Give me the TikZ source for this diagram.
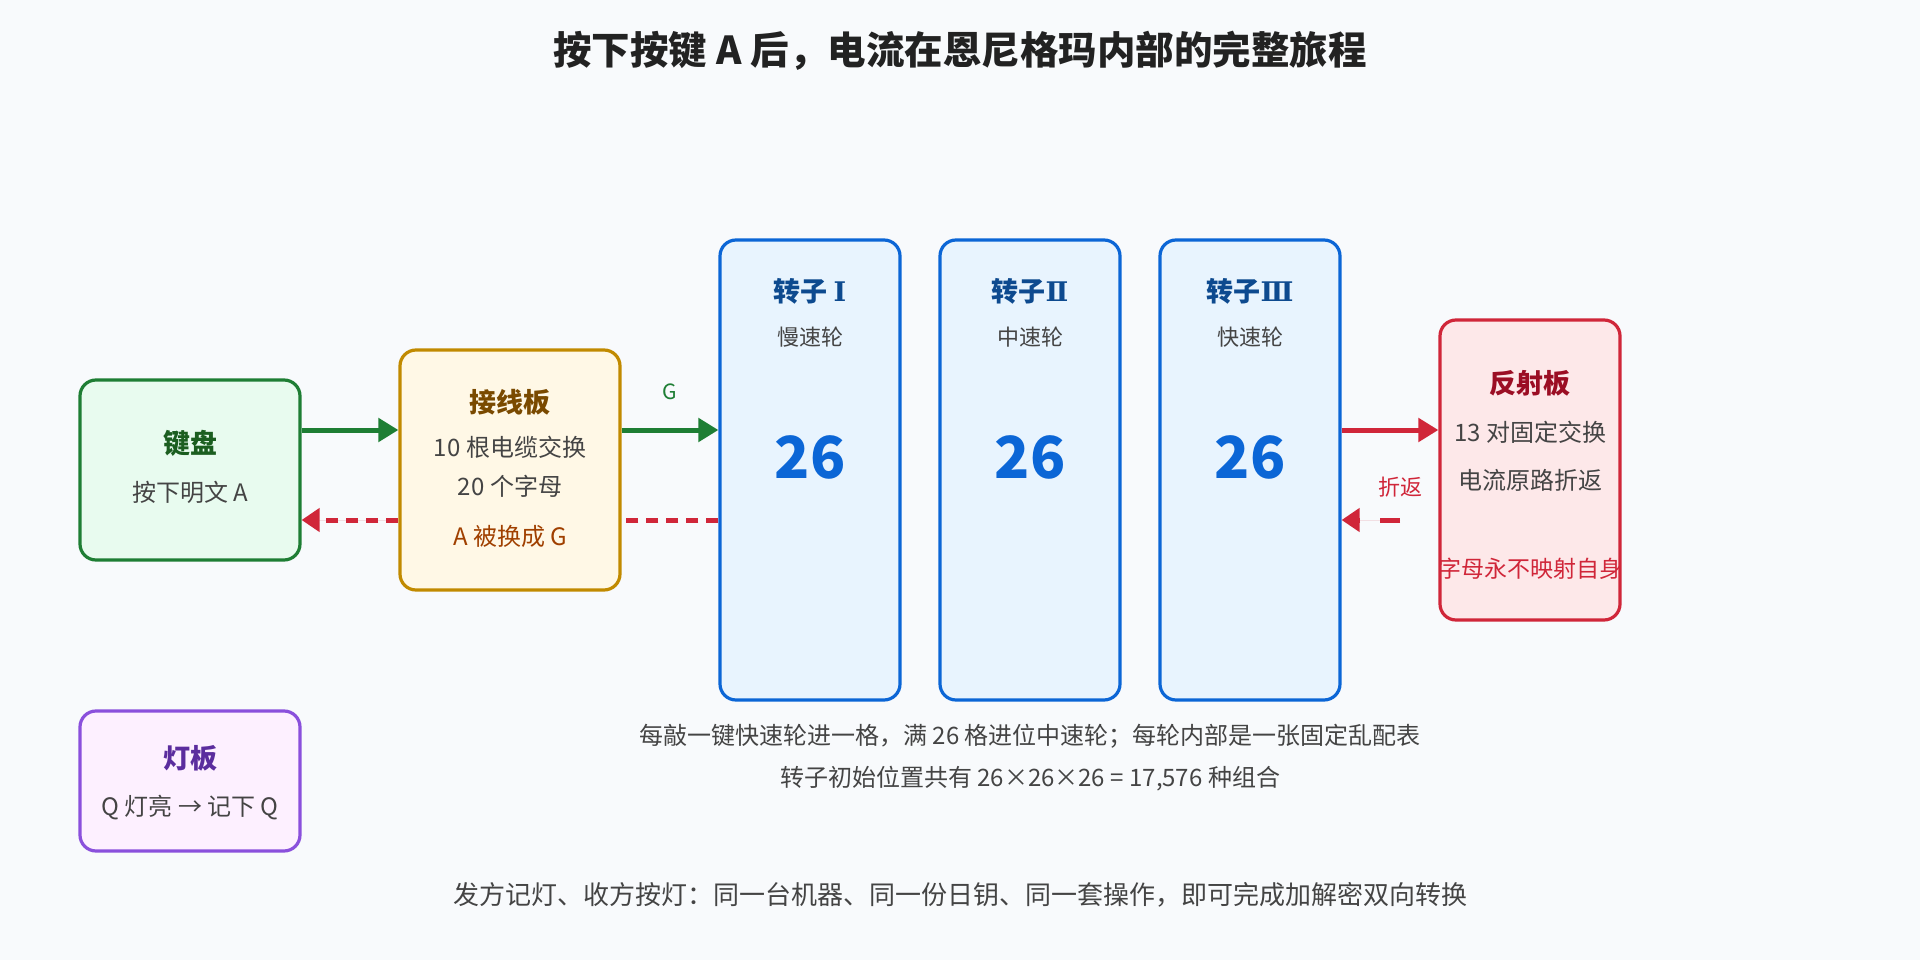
\documentclass[tikz,border=0pt]{standalone}
\usepackage{fontspec}
\setmainfont{Noto Sans CJK SC}
\newfontfamily\romanfont{DejaVu Serif}
\usetikzlibrary{arrows.meta,calc}

\definecolor{bgcol}{HTML}{F8FAFC}
\definecolor{titlecol}{HTML}{222222}
\definecolor{textgray}{HTML}{444444}
\definecolor{kbline}{HTML}{1E7E34}
\definecolor{kbfill}{HTML}{E8FBEF}
\definecolor{kbtitle}{HTML}{1B5E20}
\definecolor{pbline}{HTML}{C18A00}
\definecolor{pbfill}{HTML}{FFF8E6}
\definecolor{pbtitle}{HTML}{7A4A00}
\definecolor{pbnote}{HTML}{A04000}
\definecolor{rotline}{HTML}{0B66D6}
\definecolor{rotfill}{HTML}{E8F4FE}
\definecolor{rottitle}{HTML}{0D4A8F}
\definecolor{rfline}{HTML}{D02639}
\definecolor{rffill}{HTML}{FDE8E9}
\definecolor{rftitle}{HTML}{9B0E24}
\definecolor{ltline}{HTML}{8A50DC}
\definecolor{ltfill}{HTML}{FDF0FF}
\definecolor{lttitle}{HTML}{5B2D9E}
\definecolor{flowgreen}{HTML}{1E7E34}
\definecolor{flowred}{HTML}{D02639}

\begin{document}
\begin{tikzpicture}[x=1pt,y=-1pt,
  box/.style={draw,line width=3.2pt,rounded corners=16pt,inner sep=0pt},
  boxtitle/.style={font=\fontsize{27}{32}\selectfont\bfseries},
  boxtext/.style={font=\fontsize{24}{29}\selectfont,text=textgray},
  smalltext/.style={font=\fontsize{22}{26}\selectfont},
  flow/.style={line width=5pt,-{Triangle[length=20pt,width=23pt]}},
  back/.style={line width=5pt,draw=flowred,dash pattern=on 12pt off 8pt},
  backtip/.style={back,-{Triangle[length=18pt,width=23pt]}}
]
\fill[bgcol] (0,0) rectangle (1920,960);
\useasboundingbox (0,0) rectangle (1920,960);

\node[font=\fontsize{38.5}{44}\selectfont\bfseries,text=titlecol] (title) at (960,51)
  {按下按键 A 后，电流在恩尼格玛内部的完整旅程};

% keyboard and plugboard
\node[box,draw=kbline,fill=kbfill,minimum width=220pt,minimum height=180pt] (kb) at (190,470) {};
\node[boxtitle,text=kbtitle] (kbT) at (190,443) {键盘};
\node[boxtext] (kbS) at (190,492) {按下明文 A};

\node[box,draw=pbline,fill=pbfill,minimum width=220pt,minimum height=240pt] (pb) at (510,470) {};
\node[boxtitle,text=pbtitle] (pbT) at (510,402) {接线板};
\node[boxtext] (pbS1) at (510,447) {10 根电缆交换};
\node[boxtext] (pbS2) at (510,486) {20 个字母};
\node[boxtext,text=pbnote] (pbS3) at (510,536) {A 被换成 G};

% rotors
\foreach \i/\x/\num/\speed in {1/810/{\kern6pt Ⅰ}/慢速轮,2/1030/Ⅱ/中速轮,3/1250/Ⅲ/快速轮}{
  \node[box,draw=rotline,fill=rotfill,minimum width=180pt,minimum height=460pt] (rotor\i) at (\x,470) {};
  \node[boxtitle,text=rottitle] (rotorT\i) at (\x,291) {转子{\romanfont\num}};
  \node[smalltext,text=textgray] (rotorS\i) at (\x,337) {\speed};
  \node[font=\fontsize{58}{64}\selectfont\bfseries,text=rotline] (rotorN\i) at (\x,457) {26};
}

% reflector
\node[box,draw=rfline,fill=rffill,minimum width=180pt,minimum height=300pt] (rf) at (1530,470) {};
\node[boxtitle,text=rftitle] (rfT) at (1530,383) {反射板};
\node[boxtext] (rfS1) at (1530,432) {13 对固定交换};
\node[boxtext] (rfS2) at (1530,480) {电流原路折返};
\node[font=\fontsize{23}{27}\selectfont,text=rfline] (rfS3) at (1530,569) {字母永不映射自身};

% lamp board
\node[box,draw=ltline,fill=ltfill,minimum width=220pt,minimum height=140pt] (lt) at (190,781) {};
\node[boxtitle,text=lttitle] (ltT) at (190,758) {灯板};
\node[boxtext] (ltS) at (190,808) {Q 灯亮 → 记下 Q};

% forward current
\draw[flow,draw=flowgreen,fill=flowgreen] ([yshift=40pt]kb.east) -- ([yshift=40pt]pb.west);
\draw[flow,draw=flowgreen,fill=flowgreen] ([yshift=40pt]pb.east) -- ([yshift=40pt]rotor1.west);
\node[font=\fontsize{21}{25}\selectfont,text=flowgreen] (lblG) at (670,392) {G};
\draw[flow,draw=flowred,fill=flowred] ([yshift=40pt]rotor3.east) -- ([yshift=40pt]rf.west);

% return current
\coordinate (ret) at (1400,520);
\draw[backtip,fill=flowred,dash pattern=on 20pt off 20pt] (ret) -- (rotor3.east |- ret);
\node[smalltext,text=flowred] (lblRet) at (1400,487) {折返};
\draw[back] ([yshift=-50pt]rotor1.west) -- ([yshift=-50pt]pb.east);
\draw[backtip,fill=flowred] ([yshift=-50pt]pb.west) -- ([yshift=-50pt]kb.east);

% notes
\node[boxtext] (note1) at (1030,736) {每敲一键快速轮进一格，满 26 格进位中速轮；每轮内部是一张固定乱配表};
\node[boxtext] (note2) at (1030,779) {转子初始位置共有 26×26×26 = 17,576 种组合};
\node[font=\fontsize{26}{31}\selectfont,text=textgray] (footer) at (960,895)
  {发方记灯、收方按灯：同一台机器、同一份日钥、同一套操作，即可完成加解密双向转换};
\end{tikzpicture}
\end{document}
